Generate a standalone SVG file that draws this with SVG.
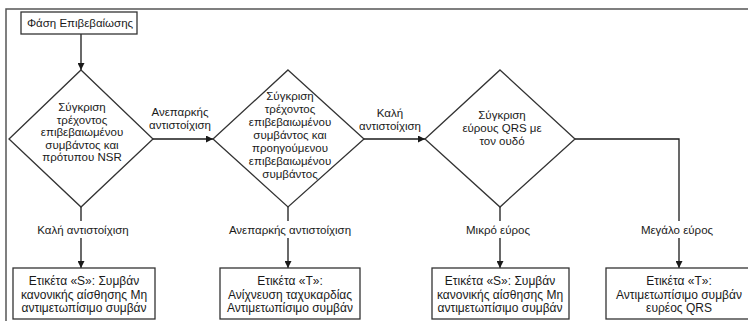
<svg xmlns="http://www.w3.org/2000/svg" width="748" height="321" viewBox="0 0 748 321">
<style>
.shape{fill:#fff;stroke:#333;stroke-width:1.3}
.frame{fill:none;stroke:#555;stroke-width:1.5}
.conn{fill:none;stroke:#1a1a1a;stroke-width:1.3}
text{font-family:"Liberation Sans",Arial,sans-serif;font-size:11.5px;fill:#1a1a1a;text-anchor:middle}
.title{font-size:11.5px}
.box{font-size:12px}
</style>
<defs>
<marker id="arr" viewBox="0 0 10 10" refX="10" refY="5" markerWidth="9" markerHeight="7" markerUnits="userSpaceOnUse" orient="auto">
<path d="M0,0 L10,5 L0,10 Z" fill="#1a1a1a"/>
</marker>
</defs>
<rect width="748" height="321" fill="#fff"/>
<path class="frame" d="M6,322 V9 H749"/>
<g id="connectors">
<line class="conn" x1="81" y1="34" x2="81" y2="70" marker-end="url(#arr)"/>
<line class="conn" x1="153" y1="139" x2="213" y2="139" marker-end="url(#arr)"/>
<line class="conn" x1="364" y1="139" x2="425" y2="139" marker-end="url(#arr)"/>
<line class="conn" x1="81" y1="207" x2="81" y2="221"/>
<line class="conn" x1="81" y1="238" x2="81" y2="268" marker-end="url(#arr)"/>
<line class="conn" x1="288" y1="207" x2="288" y2="221"/>
<line class="conn" x1="288" y1="238" x2="288" y2="268" marker-end="url(#arr)"/>
<line class="conn" x1="500" y1="207" x2="500" y2="221"/>
<line class="conn" x1="500" y1="238" x2="500" y2="268" marker-end="url(#arr)"/>
<path class="conn" d="M575,139 H679 V221"/>
<line class="conn" x1="679" y1="238" x2="679" y2="268" marker-end="url(#arr)"/>
<text x="180" y="116">Ανεπαρκής</text>
<text x="180" y="129">αντιστοίχιση</text>
<text x="390" y="117">Καλή</text>
<text x="390" y="130">αντιστοίχιση</text>
<text x="83" y="234">Καλή αντιστοίχιση</text>
<text x="290" y="234">Ανεπαρκής αντιστοίχιση</text>
<text x="498" y="234">Μικρό εύρος</text>
<text x="677" y="234">Μεγάλο εύρος</text>
</g>
<g id="start">
<rect class="shape" x="21" y="12" width="116" height="22"/>
<text class="title" x="80" y="27">Φάση Επιβεβαίωσης</text>
</g>
<g id="compare-nsr">
<polygon class="shape" points="81,70 153,139 81,207 9,139"/>
<text x="82" y="111">Σύγκριση</text>
<text x="82" y="123.5">τρέχοντος</text>
<text x="82" y="136">επιβεβαιωμένου</text>
<text x="82" y="148.5">συμβάντος και</text>
<text x="82" y="161">πρότυπου NSR</text>
</g>
<g id="compare-previous">
<polygon class="shape" points="288,70 364,139 288,207 213,139"/>
<text x="290" y="100">Σύγκριση</text>
<text x="290" y="113">τρέχοντος</text>
<text x="290" y="126">επιβεβαιωμένου</text>
<text x="290" y="139">συμβάντος και</text>
<text x="290" y="152">προηγούμενου</text>
<text x="290" y="165">επιβεβαιωμένου</text>
<text x="290" y="178">συμβάντος</text>
</g>
<g id="compare-qrs">
<polygon class="shape" points="500,70 575,139 500,207 425,139"/>
<text x="502" y="119">Σύγκριση</text>
<text x="502" y="132">εύρους QRS με</text>
<text x="502" y="145">τον ουδό</text>
</g>
<g id="label-s1">
<rect class="shape" x="13" y="268" width="142" height="51"/>
<text class="box" x="84" y="285">Ετικέτα «S»: Συμβάν</text>
<text class="box" x="84" y="298.5">κανονικής αίσθησης Μη</text>
<text class="box" x="84" y="312">αντιμετωπίσιμο συμβάν</text>
</g>
<g id="label-t1">
<rect class="shape" x="220" y="268" width="140" height="51"/>
<text class="box" x="290" y="285">Ετικέτα «T»:</text>
<text class="box" x="290" y="298.5">Ανίχνευση ταχυκαρδίας</text>
<text class="box" x="290" y="312">Αντιμετωπίσιμο συμβάν</text>
</g>
<g id="label-s2">
<rect class="shape" x="432" y="268" width="137" height="51"/>
<text class="box" x="500" y="285">Ετικέτα «S»: Συμβάν</text>
<text class="box" x="500" y="298.5">κανονικής αίσθησης Μη</text>
<text class="box" x="500" y="312">αντιμετωπίσιμο συμβάν</text>
</g>
<g id="label-t2">
<rect class="shape" x="606" y="268" width="148" height="51"/>
<text class="box" x="679" y="285">Ετικέτα «T»:</text>
<text class="box" x="679" y="298.5">Αντιμετωπίσιμο συμβάν</text>
<text class="box" x="679" y="312">ευρέος QRS</text>
</g>
</svg>
